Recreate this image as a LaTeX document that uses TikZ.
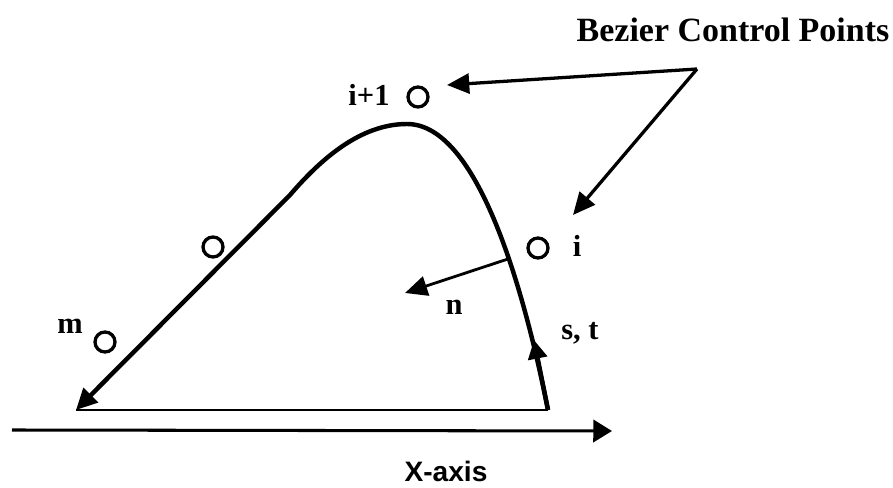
\documentclass[tikz,border=0pt]{standalone}
\usepackage{fontspec}
\setmainfont{Liberation Serif}
\setsansfont{Liberation Sans}
\usetikzlibrary{arrows.meta}

\begin{document}
\begin{tikzpicture}[
    x=0.03cm, y=-0.03cm,
    ctrl/.style={draw, circle, line width=2.8pt, minimum size=0.6cm, inner sep=0pt},
    lbl/.style={font=\bfseries\fontsize{26}{30}\selectfont, inner sep=0pt},
    curve/.style={line width=3.8pt},
    arr/.style={-{Triangle[length=19pt, width=17pt]}, line width=2.8pt}
]
    \useasboundingbox (0,0) rectangle (893,488);

    % labels
    \node[font=\bfseries\fontsize{29}{34}\selectfont] (title) at (733,30) {Bezier Control Points};
    \node[font=\sffamily\bfseries\fontsize{24}{28}\selectfont] (xlabel) at (446,471) {X-axis};

    % control points
    \node[ctrl] (pnext) at (418,97)  {};
    \node[ctrl] (pmid)  at (213,247) {};
    \node[ctrl] (pi)    at (538,248) {};
    \node[ctrl] (pm)    at (105,342) {};

    \node[lbl] (lnext) at (369,95)  {i+1};
    \node[lbl] (li)    at (577,246) {i};
    \node[lbl] (ln)    at (454,307) {n};
    \node[lbl] (lst)   at (580,333) {s, t};
    \node[lbl] (lm)    at (70,326)  {m};

    % curve and base
    \coordinate (start) at (548,410);
    \coordinate (top)   at (407,124);
    \coordinate (end)   at (76,410);
    \coordinate (tan)   at (534,340);
    \draw[curve, -{Triangle[length=18pt, width=17pt]}]
        (start) .. controls (528,310) and (482,124) .. (top)
                .. controls (360,124) and (320,160) .. (290,195) -- (end);
    \draw[curve, -{Triangle[length=16pt, width=16pt]}] (start) -- (tan);
    \draw[line width=2pt] (start) -- (end);

    % normal
    \coordinate (foot) at (508,259);
    \coordinate (ntip) at (405,293);
    \draw[arr, line width=2.4pt] (foot) -- (ntip);

    % x axis
    \coordinate (xa) at (12,430);
    \coordinate (xb) at (612,431);
    \draw[line width=2.6pt, -{Triangle[length=16pt, width=19pt]}] (xa) -- (xb);

    % pointers to control points
    \coordinate (hub)  at (697,69);
    \coordinate (tip1) at (447,85);
    \coordinate (tip2) at (573,215);
    \draw[arr] (hub) -- (tip1);
    \draw[arr] (hub) -- (tip2);
\end{tikzpicture}
\end{document}
